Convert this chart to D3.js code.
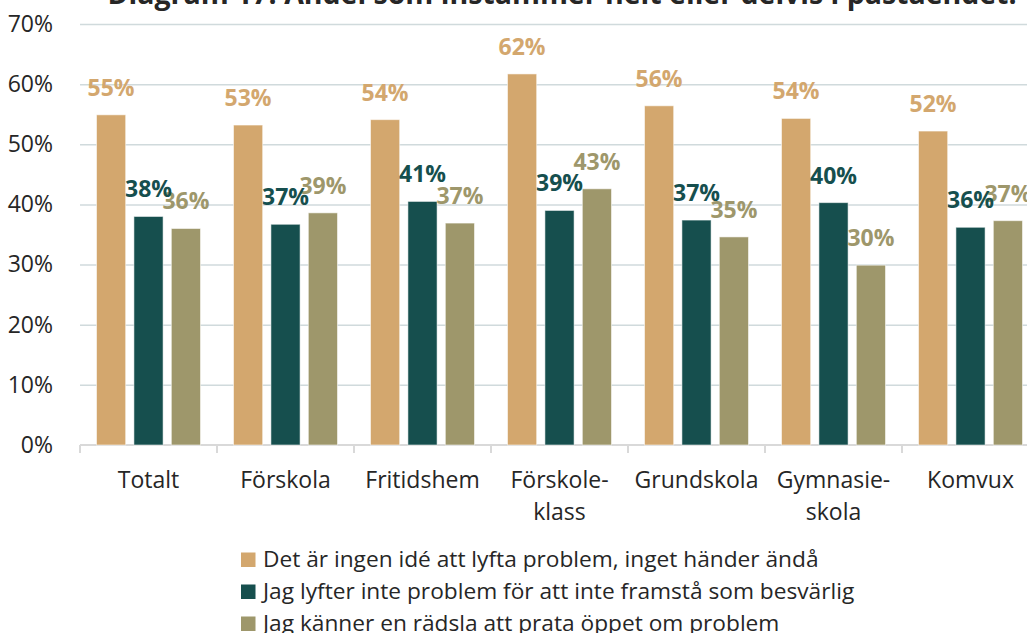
<!DOCTYPE html>
<html>
<head>
<meta charset="utf-8">
<title>Diagram 17</title>
<script src="https://cdn.jsdelivr.net/npm/d3@7"></script>
<style>
  body { margin: 0; background: #fff; }
  svg text { font-family: "Open Sans", "Noto Sans", sans-serif; }
</style>
</head>
<body>
<svg id="chart" width="1027" height="633"></svg>
<script>
// categories and series (in percent)
var categories = ["Totalt", "Förskola", "Fritidshem", "Förskole-\nklass", "Grundskola", "Gymnasie-\nskola", "Komvux"];
var seriesNames = [
  "Det är ingen idé att lyfta problem, inget händer ändå",
  "Jag lyfter inte problem för att inte framstå som besvärlig",
  "Jag känner en rädsla att prata öppet om problem"
];
var ingenIde = [54.9, 53.2, 54.1, 61.7, 56.4, 54.3, 52.2];
var besvarlig = [38.0, 36.7, 40.5, 39.0, 37.4, 40.3, 36.2];
var radsla = [36.0, 38.6, 36.9, 42.6, 34.6, 29.9, 37.3];
var yTicks = [0, 10, 20, 30, 40, 50, 60, 70];
var colors = ["#d3a76e", "#164f4e", "#9e976b"];
var title = "Diagram 17. Andel som instämmer helt eller delvis i påståendet.";

var series = [ingenIde, besvarlig, radsla];

var svg = d3.select("#chart"),
    margin = {top: 24, left: 80, bottom: 188},
    plotW = 959,
    plotH = +svg.attr("height") - margin.top - margin.bottom;

var x = d3.scaleBand().domain(categories).range([0, plotW]).padding(0);
var xs = d3.scaleBand().domain([0, 1, 2]).range([16.5, 120.5]).paddingInner(0.22).paddingOuter(0);
var y = d3.scaleLinear().domain([0, 70]).range([plotH, 0]);

var g = svg.append("g").attr("transform", "translate(" + margin.left + "," + margin.top + ")");

// title (cut off at the top, like in the picture)
svg.append("text")
    .attr("x", 562).attr("y", 4)
    .attr("text-anchor", "middle")
    .style("font-size", "28.5px").style("font-weight", "bold")
    .attr("fill", "#262626")
    .text(title);

// y axis + gridlines
var yAxis = g.append("g")
    .call(d3.axisLeft(y).tickValues(yTicks).tickSize(-plotW).tickPadding(27)
        .tickFormat(function(d) { return d + "%"; }));
yAxis.select(".domain").remove();
yAxis.selectAll("line").attr("stroke", "#d0dadc").attr("stroke-width", 1.5);
yAxis.selectAll("text").attr("fill", "#262626").style("font-size", "23px");
yAxis.selectAll(".tick").filter(function(d) { return d === 0; }).select("line").remove();

// x axis baseline and boundary ticks
g.append("line")
    .attr("x1", 0).attr("x2", plotW)
    .attr("y1", plotH).attr("y2", plotH)
    .attr("stroke", "#d9d9d9").attr("stroke-width", 2);
g.selectAll(".bound").data(categories.concat(["end"]))
  .enter().append("line")
    .attr("class", "bound")
    .attr("x1", function(d, i) { return i * x.step(); })
    .attr("x2", function(d, i) { return i * x.step(); })
    .attr("y1", plotH).attr("y2", plotH + 8)
    .attr("stroke", "#d9d9d9").attr("stroke-width", 2);

var xAxis = g.append("g")
    .attr("transform", "translate(0," + plotH + ")")
    .call(d3.axisBottom(x).tickSize(0).tickFormat(""));
xAxis.select(".domain").remove();
xAxis.selectAll(".tick").append("text")
    .attr("fill", "#262626")
    .attr("text-anchor", "middle")
    .style("font-size", "23px")
    .each(function(d) {
        var lines = d.split("\n");
        var t = d3.select(this);
        lines.forEach(function(l, i) {
            t.append("tspan").attr("x", 0).attr("y", 43 + i * 32).text(l);
        });
    });

// bars
var groups = g.selectAll(".cat").data(categories)
  .enter().append("g")
    .attr("class", "cat")
    .attr("transform", function(d) { return "translate(" + x(d) + ",0)"; });

groups.selectAll("rect")
    .data(function(d, i) { return series.map(function(s, k) { return {k: k, v: s[i]}; }); })
  .enter().append("rect")
    .attr("x", function(d) { return xs(d.k); })
    .attr("width", xs.bandwidth())
    .attr("y", function(d) { return y(d.v); })
    .attr("height", function(d) { return plotH - y(d.v); })
    .attr("fill", function(d) { return colors[d.k]; })
    .attr("stroke", "#ffffff").attr("stroke-opacity", 0.55).attr("stroke-width", 1);

// labels, drawn last series first so the middle one sits on top
[2, 0, 1].forEach(function(k) {
    g.selectAll(".lab" + k).data(series[k])
      .enter().append("text")
        .attr("class", "lab" + k)
        .attr("x", function(d, i) { return x(categories[i]) + xs(k) + xs.bandwidth() / 2; })
        .attr("y", function(d) { return y(d) - 19; })
        .attr("text-anchor", "middle")
        .attr("fill", colors[k])
        .style("font-size", "23px").style("font-weight", "bold")
        .text(function(d) { return Math.round(d) + "%"; });
});

// legend
var legend = svg.append("g").attr("transform", "translate(241,567)");
var items = legend.selectAll("g").data(seriesNames)
  .enter().append("g")
    .attr("transform", function(d, i) { return "translate(0," + i * 32 + ")"; });
items.append("rect")
    .attr("x", 0).attr("y", -14.5).attr("width", 14.5).attr("height", 14.5)
    .attr("fill", function(d, i) { return colors[i]; });
items.append("text")
    .attr("x", 22).attr("y", 0)
    .attr("fill", "#262626")
    .style("font-size", "22.7px")
    .text(function(d) { return d; });
</script>
</body>
</html>
